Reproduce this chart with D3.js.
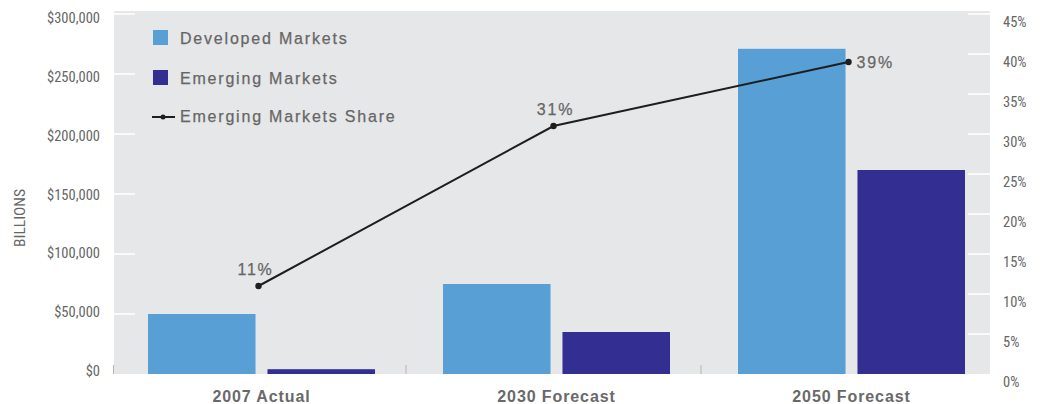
<!DOCTYPE html>
<meta charset="utf-8">
<script src="https://d3js.org/d3.v7.min.js"></script>
<style>
body { margin: 0; background: #fff; }
.tick-label { font-family: "Liberation Sans Narrow", "Roboto Condensed", "Liberation Sans", sans-serif; font-stretch: condensed; font-size: 14.5px; fill: #666; }
.cat-label { font-family: "Liberation Sans", Arial, sans-serif; font-size: 16px; font-weight: bold; fill: #696969; letter-spacing: 0.9px; }
.legend text, .share-label { font-family: "Liberation Sans", Arial, sans-serif; font-size: 16px; fill: #666; stroke: #666; stroke-width: 0.25px; letter-spacing: 1.8px; }
</style>
<body>
<script>
// chart values
var categories = ["2007 Actual", "2030 Forecast", "2050 Forecast"];
var developed = [50000, 75000, 271000];
var emerging = [4000, 35000, 170000];
var share = [11, 31, 39];
var moneyTicks = [0, 50000, 100000, 150000, 200000, 250000, 300000];
var pctTicks = [0, 5, 10, 15, 20, 25, 30, 35, 40, 45];
var seriesNames = ["Developed Markets", "Emerging Markets"];
var colors = ["#589fd5", "#332f92"];

var width = 1042, height = 404;
var plot = {left: 114, right: 990, top: 11, bottom: 374};

var svg = d3.select("body").append("svg")
    .attr("width", width)
    .attr("height", height);

// grey plot background
svg.append("rect")
    .attr("x", plot.left).attr("y", plot.top)
    .attr("width", plot.right - plot.left)
    .attr("height", plot.bottom - plot.top)
    .attr("fill", "#e6e7e9");

var x0 = d3.scaleBand().domain(categories).range([114, 999]);
var x1 = d3.scaleBand().domain(seriesNames)
    .range([34, x0.bandwidth() - 34]).paddingInner(0.1);

var yLeft = d3.scaleLinear().domain([0, 300000]).range([plot.bottom, 14]);
var yRight = d3.scaleLinear().domain([0, 45]).range([plot.bottom, 14]);
// the left labels sit a little inside their ticks
var yLeftLabel = d3.scaleLinear().domain([0, 300000]).range([371, 18]);

// left axis: short white ticks inside the plot, labels outside
var leftAxis = svg.append("g");
leftAxis.selectAll("line").data(moneyTicks.slice(1)).enter().append("line")
    .attr("x1", plot.left).attr("x2", plot.left + 21)
    .attr("y1", function(d) { return yLeft(d); })
    .attr("y2", function(d) { return yLeft(d); })
    .attr("stroke", "#fff").attr("stroke-width", 1.5);
leftAxis.selectAll("text").data(moneyTicks).enter().append("text")
    .attr("class", "tick-label")
    .attr("x", 100)
    .attr("y", function(d) { return yLeftLabel(d); })
    .attr("dy", "0.35em")
    .attr("text-anchor", "end")
    .text(function(d) { return "$" + d3.format(",")(d); });

svg.append("text")
    .attr("class", "tick-label")
    .attr("transform", "translate(25,218) rotate(-90)")
    .attr("text-anchor", "middle")
    .style("font-size", "15.5px")
    .text("BILLIONS");

// right axis
var rightAxis = svg.append("g");
rightAxis.selectAll("line").data(pctTicks.slice(1)).enter().append("line")
    .attr("x1", plot.right - 22).attr("x2", plot.right)
    .attr("y1", function(d) { return yRight(d); })
    .attr("y2", function(d) { return yRight(d); })
    .attr("stroke", "#fff").attr("stroke-width", 1.5);
rightAxis.selectAll("text").data(pctTicks).enter().append("text")
    .attr("class", "tick-label")
    .attr("x", 1003)
    .attr("y", function(d) { return yRight(d) + 7.5; })
    .attr("dy", "0.35em")
    .text(function(d) { return d + "%"; });

// category separators
svg.selectAll(".sep").data(categories).enter().append("line")
    .attr("class", "sep")
    .attr("x1", function(d, i) { return i === 0 ? plot.left - 0.5 : x0(d) - 3; })
    .attr("x2", function(d, i) { return i === 0 ? plot.left - 0.5 : x0(d) - 3; })
    .attr("y1", plot.bottom - 9).attr("y2", plot.bottom)
    .attr("stroke", "#b5b5b5").attr("stroke-width", 1);

// bars
var groups = svg.selectAll(".grp").data(categories).enter().append("g")
    .attr("class", "grp")
    .attr("transform", function(d) { return "translate(" + x0(d) + ",0)"; });

groups.selectAll("rect")
    .data(function(d, i) { return [
        {name: seriesNames[0], value: developed[i], c: colors[0]},
        {name: seriesNames[1], value: emerging[i], c: colors[1]}]; })
    .enter().append("rect")
    .attr("x", function(d) { return x1(d.name); })
    .attr("width", x1.bandwidth())
    .attr("y", function(d) { return yLeft(d.value); })
    .attr("height", function(d) { return plot.bottom - yLeft(d.value); })
    .attr("fill", function(d) { return d.c; });

svg.selectAll(".cat-label").data(categories).enter().append("text")
    .attr("class", "cat-label")
    .attr("x", function(d) { return x0(d) + x0.bandwidth() / 2; })
    .attr("y", 402)
    .attr("text-anchor", "middle")
    .text(function(d) { return d; });

// share line
var pts = categories.map(function(c, i) {
  return [x0(c) + x0.bandwidth() / 2 - 3, yRight(share[i])];
});
svg.append("path")
    .attr("d", d3.line()(pts))
    .attr("fill", "none").attr("stroke", "#1e1e1e").attr("stroke-width", 2);
svg.selectAll(".dot").data(pts).enter().append("circle")
    .attr("class", "dot")
    .attr("cx", function(d) { return d[0]; })
    .attr("cy", function(d) { return d[1]; })
    .attr("r", 3.2).attr("fill", "#1e1e1e");

svg.selectAll(".share-label").data(share).enter().append("text")
    .attr("class", "share-label")
    .attr("x", function(d, i) { return i === 0 ? pts[i][0] - 3 : i === 1 ? pts[i][0] + 2 : pts[i][0] + 8; })
    .attr("y", function(d, i) { return i < 2 ? pts[i][1] - 11 : pts[i][1] + 6; })
    .attr("text-anchor", function(d, i) { return i < 2 ? "middle" : "start"; })
    .text(function(d) { return d + "%"; });

// legend
var legend = svg.append("g").attr("class", "legend");
seriesNames.forEach(function(n, i) {
  legend.append("rect")
      .attr("x", 153).attr("y", 30 + i * 40)
      .attr("width", 15).attr("height", 15)
      .attr("fill", colors[i]);
  legend.append("text")
      .attr("x", 180).attr("y", 44 + i * 40)
      .text(n);
});
legend.append("line")
    .attr("x1", 152).attr("x2", 175).attr("y1", 117).attr("y2", 117)
    .attr("stroke", "#1e1e1e").attr("stroke-width", 2);
legend.append("circle").attr("cx", 163).attr("cy", 117).attr("r", 2.5).attr("fill", "#1e1e1e");
legend.append("text").attr("x", 180).attr("y", 122).text("Emerging Markets Share");
</script>
</body>
